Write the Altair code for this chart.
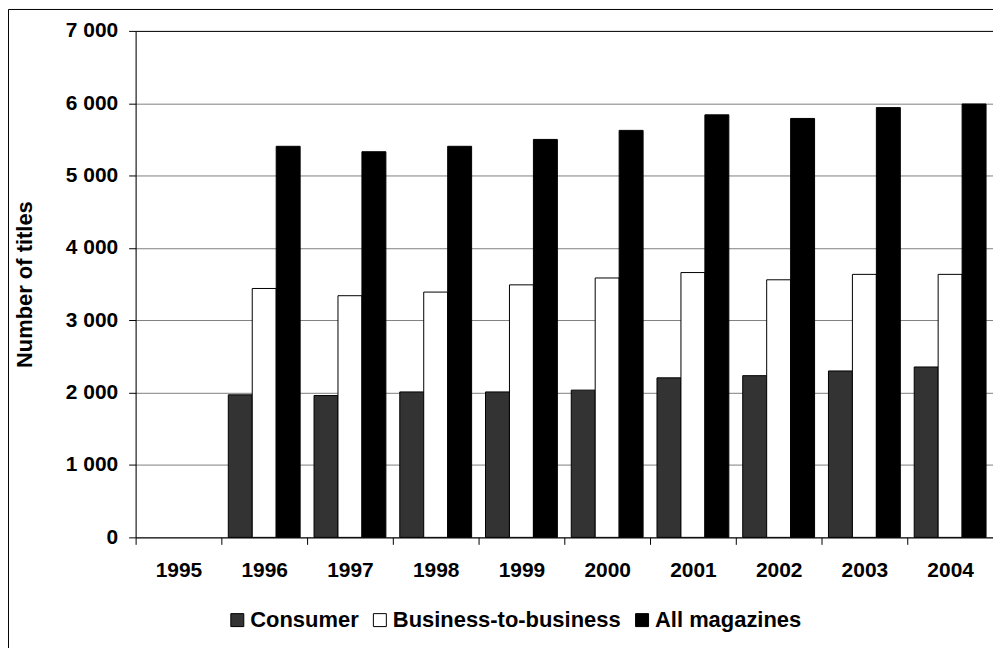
import altair as alt
import pandas as pd

years = ["1995", "1996", "1997", "1998", "1999", "2000", "2001", "2002", "2003", "2004"]
series = ["Consumer", "Business-to-business", "All magazines"]
consumer = [None, 1970, 1960, 2010, 2010, 2035, 2205, 2235, 2300, 2355]
b2b = [None, 3440, 3340, 3390, 3490, 3585, 3660, 3560, 3635, 3635]
all_mag = [None, 5405, 5330, 5405, 5500, 5625, 5840, 5790, 5940, 5990]
colors = ["#333333", "#ffffff", "#000000"]

rows = []
for i, y in enumerate(years):
    for s, vals in zip(series, [consumer, b2b, all_mag]):
        if vals[i] is not None:
            rows.append({"year": y, "series": s, "value": vals[i]})
df = pd.DataFrame(rows)

FONT = "Liberation Sans"
W, H = 860, 508

bars = alt.Chart(df).mark_bar(stroke="black", strokeWidth=1).encode(
    x=alt.X("year:N", scale=alt.Scale(domain=years, paddingInner=0, paddingOuter=0),
            axis=alt.Axis(title=None, labelAngle=0, tickBand="extent", tickSize=7,
                          labelPadding=15, domainColor="black", tickColor="black",
                          labelFont=FONT, labelFontSize=21, labelFontWeight="bold",
                          labelColor="black", grid=False)),
    xOffset=alt.XOffset("series:N", sort=series,
                        scale=alt.Scale(domain=series, paddingInner=0, paddingOuter=0.29)),
    y=alt.Y("value:Q", scale=alt.Scale(domain=[0, 7000], nice=False),
            axis=alt.Axis(title="Number of titles", values=list(range(0, 7001, 1000)),
                          labelExpr="replace(format(datum.value, ','), ',', ' ')",
                          tickSize=7, labelPadding=11, domainColor="black", tickColor="black",
                          gridColor={"condition": {"test": "datum.value === 7000", "value": "black"},
                                     "value": "#808080"},
                          labelFont=FONT, labelFontSize=21, labelFontWeight="bold",
                          labelColor="black",
                          titleFont=FONT, titleFontSize=22, titleFontWeight="bold",
                          titleColor="black", titleX=-111, titleY=254,
                          titleBaseline="middle", titleAlign="center", titleAngle=-90)),
    color=alt.Color("series:N", sort=series,
                    scale=alt.Scale(domain=series, range=colors),
                    legend=alt.Legend(title=None, orient="none", legendX=91, legendY=580,
                                      direction="horizontal", columns=3,
                                      symbolType="square", symbolSize=169,
                                      symbolStrokeColor="black", symbolStrokeWidth=1,
                                      labelFont=FONT, labelFontSize=22, labelFontWeight="bold",
                                      labelColor="black", labelOffset=2, columnPadding=10,
                                      labelLimit=0)),
)

border = alt.Chart(pd.DataFrame({"a": [0]})).mark_rect(
    fill=None, stroke="black", strokeWidth=1
).encode(
    x=alt.value(-127.5), x2=alt.value(1000), y=alt.value(-21.5), y2=alt.value(800)
)

chart = alt.layer(bars, border).properties(
    width=W, height=H,
    autosize=alt.AutoSizeParams(type="none"),
    padding={"left": 128, "top": 22, "right": 0, "bottom": 110},
).configure_view(stroke="#808080", strokeWidth=1).configure(background="white")

chart.save("out.html", embed_options={"renderer": "svg", "actions": False})
